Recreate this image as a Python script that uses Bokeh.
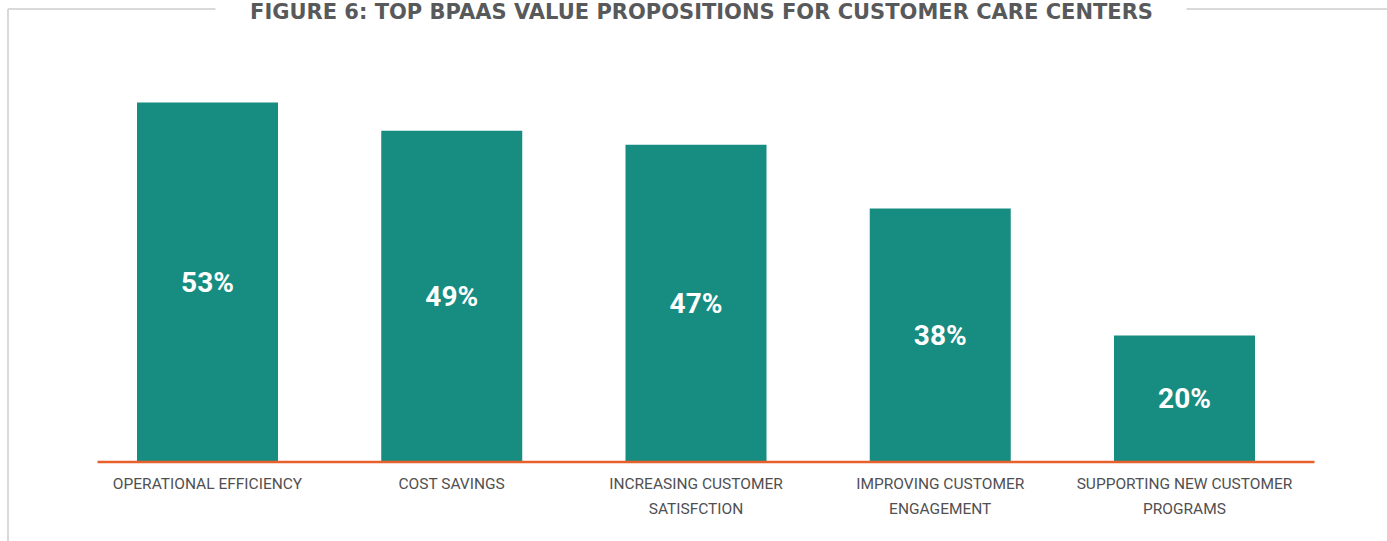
from bokeh.plotting import figure
from bokeh.models import FactorRange, Range1d
from bokeh.core.properties import value
from bokeh.embed import file_html
from bokeh.resources import INLINE

# ---- data ----
title_text = "FIGURE 6: TOP BPAAS VALUE PROPOSITIONS FOR CUSTOMER CARE CENTERS"
categories = [
    "OPERATIONAL EFFICIENCY",
    "COST SAVINGS",
    "INCREASING CUSTOMER\nSATISFCTION",
    "IMPROVING CUSTOMER\nENGAGEMENT",
    "SUPPORTING NEW CUSTOMER\nPROGRAMS",
]
values = [53, 49, 47, 38, 20]
value_labels = [f"{v}%" for v in values]

# ---- layout / style ----
W, H = 1387, 541
FRAME_LEFT = 4
PAD = 0.3311
KX = (W - FRAME_LEFT) / (len(categories) + 2 * PAD)
BASE_PX = 461.5
KY = 7.06
BASE = 2.08

TEAL = "#178c80"
ORANGE = "#e8602c"
BORDER = "#d9d9d9"
TITLE_COLOR = "#58595b"
LABEL_COLOR = "#505052"


def xd(px):
    return -PAD + (px - FRAME_LEFT) / KX


def yd(py):
    return BASE + (BASE_PX - py) / KY


p = figure(
    width=W, height=H,
    x_range=FactorRange(factors=categories, range_padding=PAD, range_padding_units="absolute"),
    y_range=Range1d(yd(H), yd(0)),
    output_backend="svg", toolbar_location=None,
    x_axis_location=None, y_axis_location=None,
    min_border_left=FRAME_LEFT, min_border_right=0, min_border_top=0, min_border_bottom=0,
)
p.grid.visible = False
p.outline_line_color = None
p.background_fill_color = "white"
p.border_fill_color = "white"

# frame border (decoration)
p.segment(x0=[xd(7.5), xd(7.5), xd(1186)], y0=[yd(8.5), yd(8.5), yd(8.5)],
          x1=[xd(7.5), xd(215), xd(W + 5)], y1=[yd(H + 5), yd(8.5), yd(8.5)],
          line_color=BORDER, line_width=2)

# bars
p.vbar(x=categories, top=values, bottom=BASE, width=141 / KX, color=TEAL, line_color=None)

# baseline
p.segment(x0=[xd(97)], y0=[BASE], x1=[xd(1314)], y1=[BASE], line_color=ORANGE, line_width=2.5)

# value labels
p.text(x=categories, y=[(BASE + v) / 2 for v in values], text=value_labels,
       text_align="center", text_baseline="middle", text_color="white",
       text_font=value("Roboto"), text_font_style="bold", text_font_size="28px")

# category labels
p.text(x=categories, y=[yd(474)] * len(categories), text=categories,
       text_align="center", text_baseline="top", text_color=LABEL_COLOR,
       text_font=value("Roboto"), text_font_size="15.5px", text_line_height=1.4)

# title
p.text(x=[xd(701)], y=[yd(11.5)], text=[title_text],
       text_align="center", text_baseline="middle", text_color=TITLE_COLOR,
       text_font=value("DejaVu Sans"), text_font_style="bold", text_font_size="21px")

open("out.html", "w").write(file_html(p, INLINE))
